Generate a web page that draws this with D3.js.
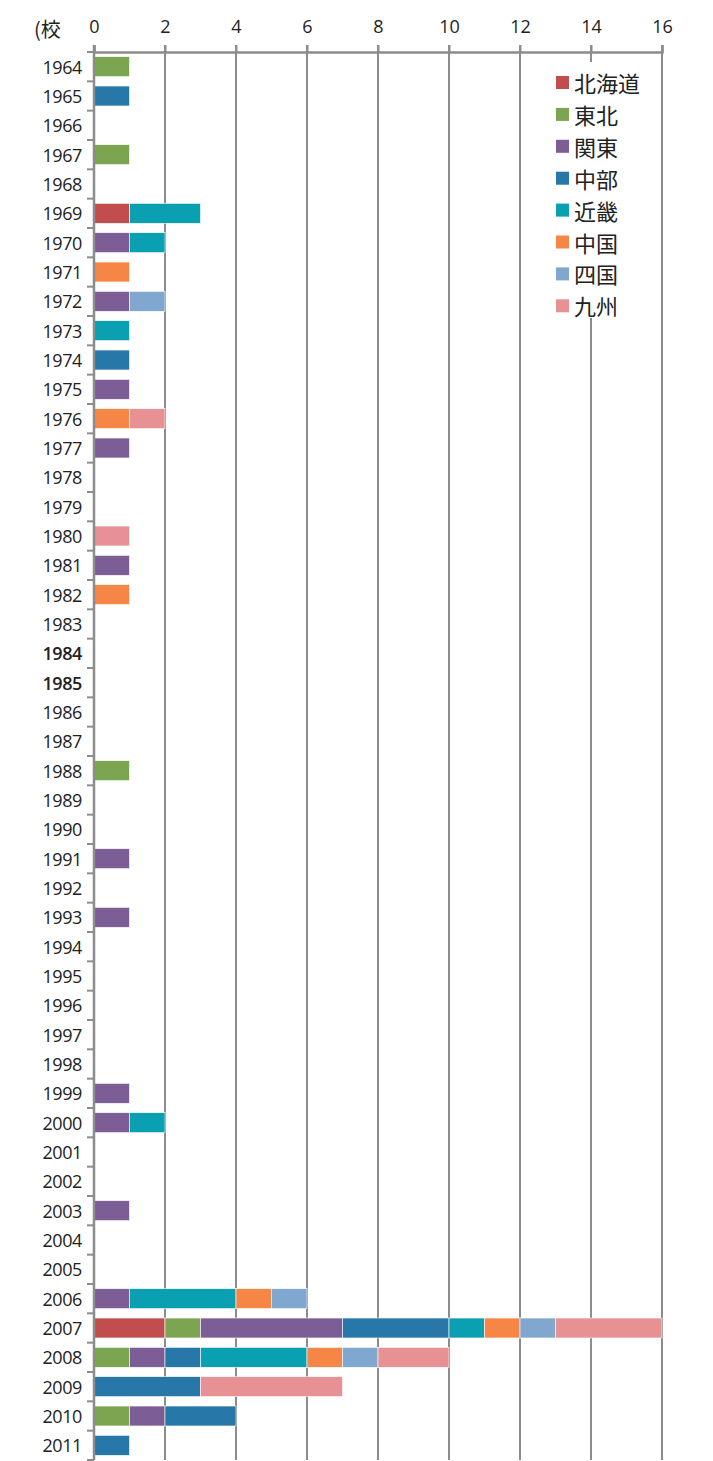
<!DOCTYPE html>
<html>
<script src="https://d3js.org/d3.v7.min.js"></script>

<head>
    <style>
        body {
            margin: 0;
            background-color: #fff;
            font-family: "Noto Sans CJK JP", "Noto Sans", sans-serif;
        }

        svg {
            display: block;
        }
    </style>
</head>

<body>
</body>
<script>
    const width = 713,
        height = 1461;
    const svg = d3.select("body").append("svg").attr("width", width).attr("height", height);

    const years = d3.range(1964, 2012);
    const regions = ["北海道", "東北", "関東", "中部", "近畿", "中国", "四国", "九州"];
    const colors = ["#c24d4f", "#7ca552", "#7d5d96", "#2777a8", "#0a9fb1", "#f68645", "#7fa7cf", "#e79195"];
    const xTicks = [0, 2, 4, 6, 8, 10, 12, 14, 16];

    // counts per year, in region order
    const counts = {
        1964: [0, 1, 0, 0, 0, 0, 0, 0],
        1965: [0, 0, 0, 1, 0, 0, 0, 0],
        1967: [0, 1, 0, 0, 0, 0, 0, 0],
        1969: [1, 0, 0, 0, 2, 0, 0, 0],
        1970: [0, 0, 1, 0, 1, 0, 0, 0],
        1971: [0, 0, 0, 0, 0, 1, 0, 0],
        1972: [0, 0, 1, 0, 0, 0, 1, 0],
        1973: [0, 0, 0, 0, 1, 0, 0, 0],
        1974: [0, 0, 0, 1, 0, 0, 0, 0],
        1975: [0, 0, 1, 0, 0, 0, 0, 0],
        1976: [0, 0, 0, 0, 0, 1, 0, 1],
        1977: [0, 0, 1, 0, 0, 0, 0, 0],
        1980: [0, 0, 0, 0, 0, 0, 0, 1],
        1981: [0, 0, 1, 0, 0, 0, 0, 0],
        1982: [0, 0, 0, 0, 0, 1, 0, 0],
        1988: [0, 1, 0, 0, 0, 0, 0, 0],
        1991: [0, 0, 1, 0, 0, 0, 0, 0],
        1993: [0, 0, 1, 0, 0, 0, 0, 0],
        1999: [0, 0, 1, 0, 0, 0, 0, 0],
        2000: [0, 0, 1, 0, 1, 0, 0, 0],
        2003: [0, 0, 1, 0, 0, 0, 0, 0],
        2006: [0, 0, 1, 0, 3, 1, 1, 0],
        2007: [2, 1, 4, 3, 1, 1, 1, 3],
        2008: [0, 1, 1, 1, 3, 1, 1, 2],
        2009: [0, 0, 0, 3, 0, 0, 0, 4],
        2010: [0, 1, 1, 2, 0, 0, 0, 0],
        2011: [0, 0, 0, 1, 0, 0, 0, 0]
    };
    const boldYears = [1984, 1985];

    const table = years.map(y => {
        const row = { year: y };
        const c = counts[y] || regions.map(() => 0);
        regions.forEach((r, i) => row[r] = c[i]);
        return row;
    });

    const x = d3.scaleLinear().domain([0, 16]).range([94, 662]);
    const y = d3.scaleBand().domain(years).range([52, 1460]).paddingInner(0.32).paddingOuter(0.16);
    const color = d3.scaleOrdinal().domain(regions).range(colors);
    const grey = "#8c8c8c";

    // grid lines
    svg.append("g").selectAll("line").data(xTicks.slice(1)).join("line")
        .attr("x1", d => x(d)).attr("x2", d => x(d))
        .attr("y1", 45).attr("y2", 1460)
        .attr("stroke", grey).attr("stroke-width", 2);

    // stacked bars
    const series = d3.stack().keys(regions)(table);
    svg.append("g").selectAll("g").data(series).join("g")
        .attr("fill", d => color(d.key))
        .selectAll("rect").data(d => d.filter(p => p[1] > p[0])).join("rect")
        .attr("x", d => x(d[0]))
        .attr("y", d => y(d.data.year))
        .attr("width", d => x(d[1]) - x(d[0]))
        .attr("height", y.bandwidth())
        .attr("stroke", "#fff").attr("stroke-width", 0.6);

    // top axis
    const xAxis = svg.append("g").attr("transform", "translate(0,52)")
        .call(d3.axisTop(x).tickValues(xTicks).tickSize(7).tickPadding(12));
    xAxis.select(".domain").attr("stroke", grey).attr("stroke-width", 2.5);
    xAxis.selectAll(".tick line").attr("stroke", grey).attr("stroke-width", 2);
    xAxis.selectAll(".tick text").attr("font-size", 18).attr("fill", "#222")
        .attr("font-family", "'Open Sans', sans-serif");

    // left axis
    const step = y.step();
    svg.append("line").attr("x1", 94).attr("x2", 94).attr("y1", 45).attr("y2", 1460)
        .attr("stroke", grey).attr("stroke-width", 2.5);
    svg.append("g").selectAll("line").data(d3.range(years.length + 1)).join("line")
        .attr("x1", 87).attr("x2", 94)
        .attr("y1", i => 52 + i * step).attr("y2", i => 52 + i * step)
        .attr("stroke", grey).attr("stroke-width", 2);
    svg.append("g").selectAll("text").data(years).join("text")
        .attr("x", 82)
        .attr("y", d => y(d) + y.bandwidth() / 2)
        .attr("text-anchor", "end")
        .attr("dominant-baseline", "central")
        .attr("font-size", 18)
        .attr("font-family", "'Open Sans', sans-serif")
        .attr("letter-spacing", -0.4)
        .attr("font-weight", d => boldYears.includes(d) ? 600 : 400)
        .attr("fill", "#222")
        .text(d => d);

    svg.append("text").attr("x", 34).attr("y", 37)
        .attr("font-size", 20).attr("fill", "#222").text("(校");

    // legend
    const legend = svg.append("g");
    legend.append("rect").attr("x", 549).attr("y", 62).attr("width", 104).attr("height", 256).attr("fill", "#fff");
    regions.forEach((r, i) => {
        const ly = 82 + i * 31.9;
        legend.append("rect").attr("x", 556).attr("y", ly - 6).attr("width", 13).attr("height", 13).attr("fill", color(r));
        legend.append("text").attr("x", 574).attr("y", ly)
            .attr("dominant-baseline", "central")
            .attr("font-size", 22).attr("fill", "#222").text(r);
    });
</script>

</html>
